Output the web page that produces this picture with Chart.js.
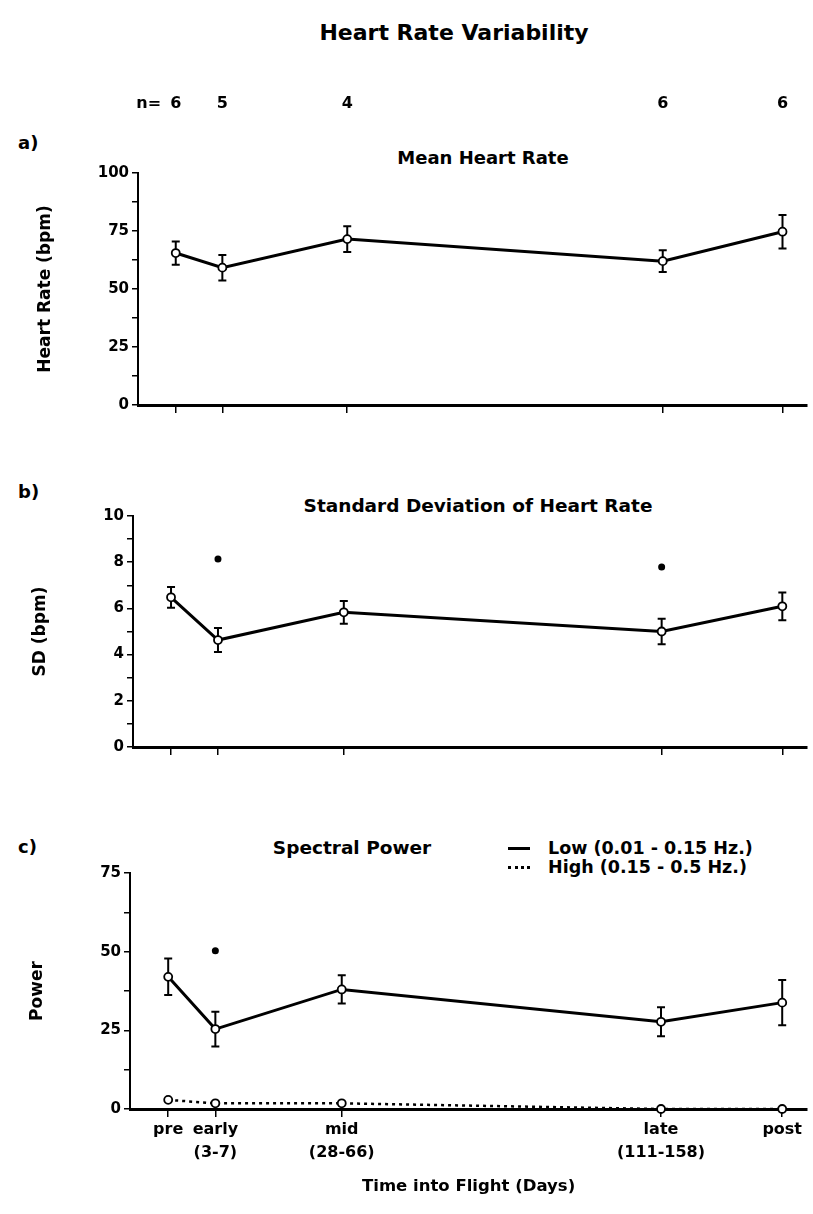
<!DOCTYPE html>
<html><head><meta charset="utf-8">
<script src="https://cdn.jsdelivr.net/npm/chart.js@4"></script>
<style>
html,body{margin:0;padding:0;background:#fff;}
body{width:813px;height:1214px;position:relative;overflow:hidden;font-family:'DejaVu Sans',sans-serif;font-weight:bold;color:#000;}
.t{position:absolute;white-space:nowrap;transform:translate(-50%,-50%);line-height:1;}
.l{position:absolute;white-space:nowrap;transform:translateY(-50%);line-height:1;}
.cv{position:absolute;}
.sw{position:absolute;width:22px;height:0;}
</style></head><body>
<div class="t" style="left:454px;top:33px;font-size:22px">Heart Rate Variability</div>
<div class="l" style="left:18px;top:143px;font-size:18px">a)</div>
<div class="t" style="left:483px;top:158px;font-size:18px">Mean Heart Rate</div>
<div class="l" style="left:18px;top:492px;font-size:18px">b)</div>
<div class="t" style="left:478px;top:506px;font-size:18.5px">Standard Deviation of Heart Rate</div>
<div class="l" style="left:18px;top:847px;font-size:18px">c)</div>
<div class="t" style="left:352px;top:848px;font-size:18.5px">Spectral Power</div>
<div class="sw" style="left:508px;top:847px;border-top:3px solid #000"></div>
<div class="l" style="left:548px;top:849px;font-size:17.5px">Low (0.01 - 0.15 Hz.)</div>
<div class="sw" style="left:508px;top:866px;border-top:3px dotted #000"></div>
<div class="l" style="left:548px;top:868px;font-size:17.5px">High (0.15 - 0.5 Hz.)</div>

<div class="cv" style="left:0;top:80px"><canvas id="ca" width="813" height="350"></canvas></div>
<div class="cv" style="left:-5px;top:500px"><canvas id="cb" width="818" height="270"></canvas></div>
<div class="cv" style="left:-8px;top:860px"><canvas id="cc" width="821" height="354"></canvas></div>

<script>
// ---- data ----
const categories = ['pre', 'early', 'mid', 'late', 'post'];
const xPos = [0, 1, 3.68, 10.45, 13.02];
const xTickLabels = ['pre', ['early', '(3-7)'], ['mid', '(28-66)'], ['late', '(111-158)'], 'post'];
const nCounts = [6, 5, 4, 6, 6];
const hrMean = [65.5, 59.2, 71.5, 62, 74.7];
const hrErr = [5, 5.5, 5.5, 4.7, 7.2];
const sdMean = [6.48, 4.63, 5.83, 5.0, 6.09];
const sdErr = [0.45, 0.52, 0.49, 0.55, 0.6];
const sdSig = [null, 8.14, null, 7.79, null];
const lowPower = [42.0, 25.4, 38.0, 27.7, 33.8];
const lowErr = [5.8, 5.5, 4.5, 4.6, 7.2];
const highPower = [2.9, 1.8, 1.8, 0, 0];
const powerSig = [null, 50.3, null, null, null];
const hrTicks = [0, 25, 50, 75, 100];
const sdTicks = [0, 2, 4, 6, 8, 10];
const powerTicks = [0, 25, 50, 75];

// ---- helpers ----
const FONT = "'DejaVu Sans', sans-serif";
const X_MIN = -0.81, X_MAX = 13.55;
const pts = (ys) => ys.map((y, i) => ({ x: xPos[i], y }));

const errorBarPlugin = {
  id: 'errorBars',
  beforeDatasetsDraw(chart) {
    const ctx = chart.ctx, ys = chart.scales.y;
    chart.data.datasets.forEach((ds, i) => {
      if (!ds.errors) return;
      const meta = chart.getDatasetMeta(i);
      ctx.save();
      ctx.strokeStyle = '#000';
      ctx.lineWidth = 2;
      meta.data.forEach((pt, j) => {
        const v = ds.data[j].y, e = ds.errors[j];
        if (v == null || !e) return;
        const top = ys.getPixelForValue(v + e), bot = ys.getPixelForValue(v - e);
        ctx.beginPath();
        ctx.moveTo(pt.x, top); ctx.lineTo(pt.x, bot);
        ctx.moveTo(pt.x - 4, top); ctx.lineTo(pt.x + 4, top);
        ctx.moveTo(pt.x - 4, bot); ctx.lineTo(pt.x + 4, bot);
        ctx.stroke();
      });
      ctx.restore();
    });
  }
};

const nCountPlugin = {
  id: 'nCounts',
  afterDraw(chart) {
    const ctx = chart.ctx, xs = chart.scales.x;
    const y = chart.chartArea.top - 69;
    ctx.save();
    ctx.fillStyle = '#000';
    ctx.font = 'bold 16px ' + FONT;
    ctx.textAlign = 'center';
    ctx.textBaseline = 'middle';
    ctx.fillText('n=', xs.getPixelForValue(xPos[0]) - 27, y);
    nCounts.forEach((n, i) => ctx.fillText(String(n), xs.getPixelForValue(xPos[i]), y));
    ctx.restore();
  }
};

function yAxis(min, max, step, labels, title) {
  return {
    type: 'linear', min, max,
    ticks: {
      stepSize: step, autoSkip: false, color: '#000', padding: 3,
      font: { family: FONT, size: 15, weight: 'bold' },
      callback: (v) => labels.includes(v) ? String(v) : ''
    },
    grid: { display: true, drawOnChartArea: false, drawTicks: true, tickLength: 6, color: '#000', lineWidth: 1.5 },
    border: { display: true, color: '#000', width: 2 },
    title: { display: true, text: title, color: '#000', font: { family: FONT, size: 17, weight: 'bold' }, padding: { top: 5, bottom: 4 } },
    afterFit(s) { s.width = 108; }
  };
}

function xAxis(showLabels, height) {
  return {
    type: 'linear', min: X_MIN, max: X_MAX,
    afterBuildTicks(s) { s.ticks = xPos.map(v => ({ value: v })); },
    ticks: {
      display: showLabels, autoSkip: false, maxRotation: 0, color: '#000', padding: 1,
      font: { family: FONT, size: 16, weight: 'bold', lineHeight: 1.44 },
      callback: (v, i) => xTickLabels[i]
    },
    grid: { display: true, drawOnChartArea: false, drawTicks: true, tickLength: 8, color: '#000', lineWidth: 1.5 },
    border: { display: true, color: '#000', width: 3 },
    title: { display: showLabels, text: 'Time into Flight (Days)', color: '#000', font: { family: FONT, size: 16.5, weight: 'bold' }, padding: { top: 4, bottom: 17 } },
    afterFit(s) { s.height = height; }
  };
}

function lineDs(label, ys, errs, dashed) {
  return {
    label, data: pts(ys), errors: errs,
    borderColor: '#000', borderWidth: dashed ? 2.5 : 3, borderDash: dashed ? [3, 4] : [],
    pointRadius: 4, pointBorderWidth: 1.8, pointBackgroundColor: '#fff', pointBorderColor: '#000',
    tension: 0, clip: false, order: 1
  };
}

function sigDs(ys) {
  return {
    label: 'p<0.05', data: pts(ys), showLine: false,
    pointRadius: 3.5, pointBorderWidth: 0, pointBackgroundColor: '#000', pointBorderColor: '#000', clip: false, order: 2
  };
}

const common = (padTop, padBottom) => ({
  responsive: false, animation: false, devicePixelRatio: 1,
  layout: { padding: { top: padTop, left: 30, right: 0, bottom: padBottom } },
  plugins: { legend: { display: false }, tooltip: { enabled: false }, title: { display: false } },
  parsing: true
});

// Panel a
new Chart(document.getElementById('ca'), {
  type: 'line',
  data: { datasets: [lineDs('Mean Heart Rate', hrMean, hrErr, false)] },
  options: Object.assign(common(93, 0), {
    scales: { x: xAxis(false, 25), y: yAxis(0, 100, 12.5, hrTicks, 'Heart Rate (bpm)') }
  }),
  plugins: [errorBarPlugin, nCountPlugin]
});

// Panel b
new Chart(document.getElementById('cb'), {
  type: 'line',
  data: { datasets: [lineDs('SD of Heart Rate', sdMean, sdErr, false), sigDs(sdSig)] },
  options: Object.assign(common(16, 0), {
    scales: { x: xAxis(false, 23), y: yAxis(0, 10, 1, sdTicks, 'SD (bpm)') }
  }),
  plugins: [errorBarPlugin]
});

// Panel c
new Chart(document.getElementById('cc'), {
  type: 'line',
  data: { datasets: [
    lineDs('Low (0.01 - 0.15 Hz.)', lowPower, lowErr, false),
    lineDs('High (0.15 - 0.5 Hz.)', highPower, null, true),
    sigDs(powerSig)
  ] },
  options: Object.assign(common(13, 0), {
    scales: { x: xAxis(true, 105), y: yAxis(0, 75, 12.5, powerTicks, 'Power') }
  }),
  plugins: [errorBarPlugin]
});
</script>
</body></html>
